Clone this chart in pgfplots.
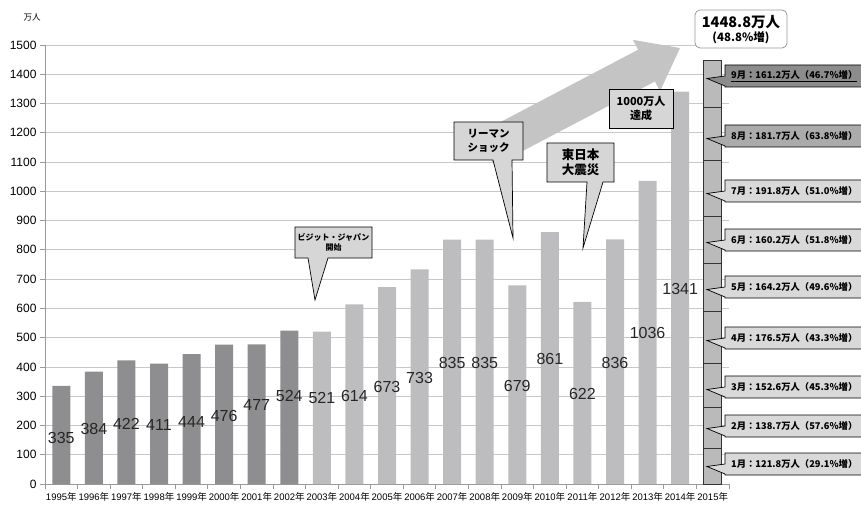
\documentclass[border=0pt]{standalone}
\usepackage{pgfplots}
\pgfplotsset{compat=1.18}
\usepackage{fontspec}
\setmainfont{Liberation Sans}
\newfontfamily\jp{Noto Sans CJK JP}
\definecolor{darkbar}{HTML}{8E8E90}
\definecolor{lightbar}{HTML}{BDBDBF}
\definecolor{gridc}{HTML}{C8C8C8}
\definecolor{axisc}{HTML}{9A9A9A}
\definecolor{boxfill}{HTML}{D6D6D6}
\definecolor{arrowc}{HTML}{C4C4C4}
\definecolor{lblc}{HTML}{262626}
\definecolor{stackc}{HTML}{BABABA}
\definecolor{stackedge}{HTML}{333333}
\definecolor{mfill}{HTML}{D9D9D9}
\definecolor{mfilleight}{HTML}{ABABAB}
\definecolor{mfillnine}{HTML}{8C8C8C}

\pgfplotstableread{
x y
0 335
1 384
2 422
3 411
4 444
5 476
6 477
7 524
}\darkdata
\pgfplotstableread{
x y
8 521
9 614
10 673
11 733
12 835
13 835
14 679
15 861
16 622
17 836
18 1036
19 1341
}\lightdata
\pgfplotstableread{
x pos lab
0 157 335
1 188 384
2 205 422
3 202 411
4 212 444
5 232 476
6 270 477
7 301 524
8 294 521
9 301 614
10 331 673
11 362 733
12 413 835
13 413 835
14 335 679
15 427 861
16 308 622
17 413 836
18 516 1036
19 666 1341
}\labdata

\newcommand{\mcall}[3]{%
  \filldraw[fill=#2, draw=black, line width=0.7pt]
    (725,#1-11) -- (870,#1-11) -- (870,#1+11) -- (725,#1+11) -- (725,#1+10)
    -- (707,#1+2.5) -- (725,#1) -- cycle;
  \node[anchor=west, inner sep=0pt, font=\jp\bfseries\fontsize{9.3}{10}\selectfont] at (731,#1) {#3};
}

\begin{document}
\begin{tikzpicture}
\path[use as bounding box] (0,0) rectangle (861pt,504pt);
\clip (0,0) rectangle (861pt,504pt);
\begin{axis}[
  at={(45pt,20pt)}, anchor=south west,
  width=684pt, height=439pt, scale only axis,
  xmin=-0.5, xmax=20.5, ymin=0, ymax=1500,
  axis x line*=bottom, axis y line*=left,
  axis line style={axisc, line width=0.8pt},
  ytick={0,100,...,1500},
  ymajorgrids, major grid style={gridc, line width=0.8pt},
  tick align=outside,
  tick style={axisc, line width=0.8pt},
  major tick length=5pt,
  xtick={-0.5,0.5,1.5,2.5,3.5,4.5,5.5,6.5,7.5,8.5,9.5,10.5,11.5,12.5,13.5,14.5,15.5,16.5,17.5,18.5,19.5,20.5},
  xticklabels={1995{\jp 年},1996{\jp 年},1997{\jp 年},1998{\jp 年},1999{\jp 年},2000{\jp 年},2001{\jp 年},2002{\jp 年},2003{\jp 年},2004{\jp 年},2005{\jp 年},2006{\jp 年},2007{\jp 年},2008{\jp 年},2009{\jp 年},2010{\jp 年},2011{\jp 年},2012{\jp 年},2013{\jp 年},2014{\jp 年},2015{\jp 年},{}},
  x tick label style={font=\fontsize{9.5}{10}\selectfont, xshift=16.286pt, text=black},
  y tick label style={font=\fontsize{12}{12}\selectfont, text=black},
  /pgf/number format/assume math mode=true,
  /pgf/number format/1000 sep={},
  clip=false,
]
\addplot[ybar, bar width=18pt, bar shift=0pt, fill=darkbar, draw=none] table[x=x,y=y] {\darkdata};
\addplot[ybar, bar width=18pt, bar shift=0pt, fill=lightbar, draw=none] table[x=x,y=y] {\lightdata};
\addplot[draw=none, mark=none, nodes near coords, point meta=explicit symbolic,
  every node near coord/.append style={anchor=center, font=\fontsize{16}{16}\selectfont, text=lblc, inner sep=0pt}]
  table[x=x,y=pos,meta=lab] {\labdata};
\end{axis}

\begin{scope}[x=1pt, y=-1pt, yshift=504pt]
  % big arrow
  \fill[arrowc] (477.6,134.1) -- (638.1,49.7) -- (633.0,39.9) -- (680,48) -- (660.0,91.3) -- (654.9,81.5) -- (494.4,165.9) -- cycle;
  % axis unit label
  \node[font=\jp\fontsize{8.5}{9}\selectfont] at (32,17) {万人};
  % Visit Japan
  \filldraw[fill=boxfill, draw=black, line width=0.7pt] (295,227) -- (372,227) -- (372,258) -- (328,258) -- (315,300) -- (308,258) -- (295,258) -- cycle;
  \node[align=center, font=\jp\bfseries\fontsize{8}{10.5}\selectfont] at (333.5,242.5) {ビジット・ジャパン\\開始};
  % Lehman
  \filldraw[fill=boxfill, draw=black, line width=0.7pt] (454,122) -- (523,122) -- (523,160) -- (512,160) -- (513,238) -- (493,160) -- (454,160) -- cycle;
  \node[align=center, font=\jp\bfseries\fontsize{10.5}{14}\selectfont] at (488.5,141) {リーマン\\ショック};
  % Tohoku
  \filldraw[fill=boxfill, draw=black, line width=0.7pt] (547,143) -- (614,143) -- (614,182) -- (603,182) -- (583,248) -- (587,182) -- (547,182) -- cycle;
  \node[align=center, font=\jp\bfseries\fontsize{12.5}{15}\selectfont] at (580.5,162.5) {東日本\\大震災};
  % 10 million
  \filldraw[fill=boxfill, draw=black, line width=0.7pt] (609,89) rectangle (673,128);
  \node[align=center, font=\jp\bfseries\fontsize{11}{14}\selectfont] at (641,108.5) {1000万人\\達成};
\end{scope}

\begin{axis}[
  at={(45pt,20pt)}, anchor=south west,
  width=684pt, height=439pt, scale only axis,
  xmin=-0.5, xmax=20.5, ymin=0, ymax=1500,
  hide axis, ybar stacked, bar width=18pt, clip=false,
]
\addplot[fill=stackc, draw=stackedge, line width=0.8pt] coordinates {(20,121.8)};
\addplot[fill=stackc, draw=stackedge, line width=0.8pt] coordinates {(20,138.7)};
\addplot[fill=stackc, draw=stackedge, line width=0.8pt] coordinates {(20,152.6)};
\addplot[fill=stackc, draw=stackedge, line width=0.8pt] coordinates {(20,176.5)};
\addplot[fill=stackc, draw=stackedge, line width=0.8pt] coordinates {(20,164.2)};
\addplot[fill=stackc, draw=stackedge, line width=0.8pt] coordinates {(20,160.2)};
\addplot[fill=stackc, draw=stackedge, line width=0.8pt] coordinates {(20,191.8)};
\addplot[fill=stackc, draw=stackedge, line width=0.8pt] coordinates {(20,181.7)};
\addplot[fill=stackc, draw=stackedge, line width=0.8pt] coordinates {(20,161.2)};
\end{axis}

\begin{scope}[x=1pt, y=-1pt, yshift=504pt]
  \mcall{76}{mfillnine}{\underline{9月：161.2万人（46.7\%増）}}
  \mcall{136}{mfilleight}{8月：181.7万人（63.8\%増）}
  \mcall{191}{mfill}{7月：191.8万人（51.0\%増）}
  \mcall{240}{mfill}{6月：160.2万人（51.8\%増）}
  \mcall{287}{mfill}{5月：164.2万人（49.6\%増）}
  \mcall{338}{mfill}{4月：176.5万人（43.3\%増）}
  \mcall{387}{mfill}{3月：152.6万人（45.3\%増）}
  \mcall{426}{mfill}{2月：138.7万人（57.6\%増）}
  \mcall{464}{mfill}{1月：121.8万人（29.1\%増）}
  % top summary box
  \filldraw[fill=white, draw=gray!80, line width=0.8pt, rounded corners=5pt] (695,10) rectangle (787,48);
  \node[font=\jp\bfseries\fontsize{14.5}{15}\selectfont] at (741,22.5) {1448.8万人};
  \node[font=\jp\bfseries\fontsize{11.5}{12}\selectfont] at (741,38) {(48.8\%増)};
\end{scope}
\end{tikzpicture}
\end{document}
